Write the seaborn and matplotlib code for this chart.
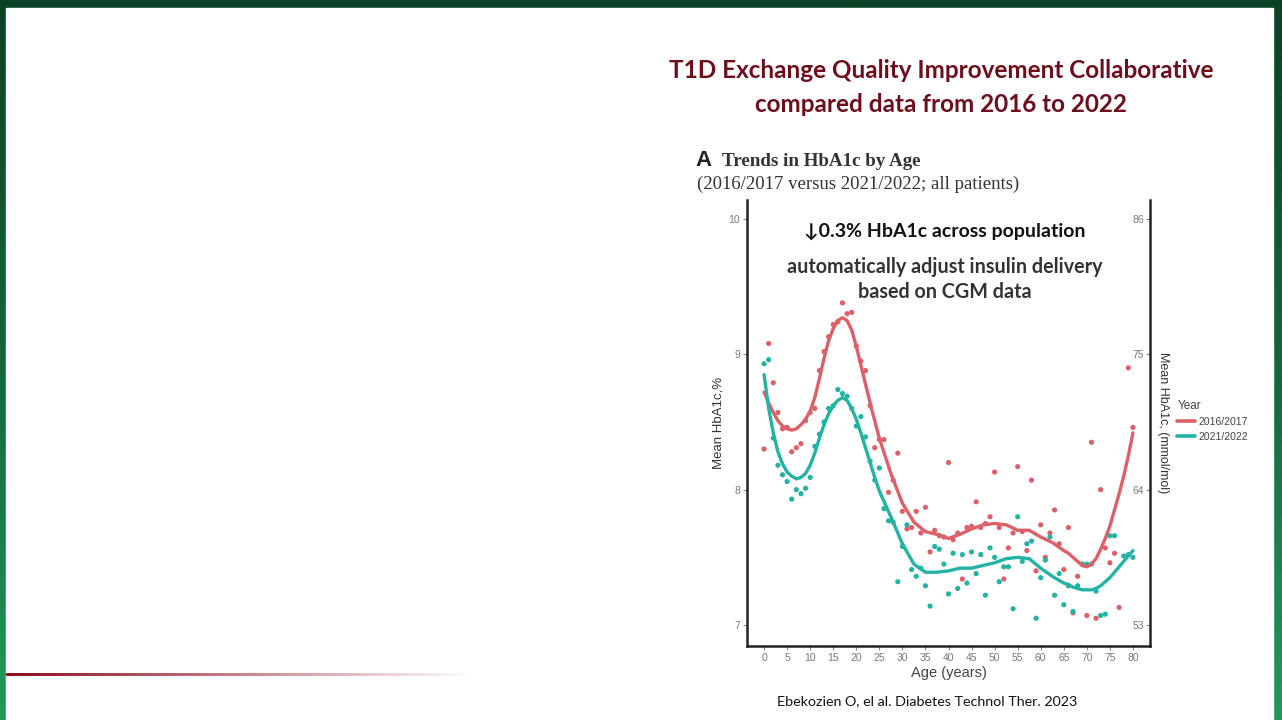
import numpy as np
import pandas as pd
import matplotlib
matplotlib.use("Agg")
import matplotlib.pyplot as plt
from matplotlib.lines import Line2D
import seaborn as sns

# mean HbA1c (%) by age
ages_1617 = [0, 1, 2, 3, 4, 5, 6, 7, 8, 9, 10, 11, 12, 13, 14, 15, 16, 17, 18, 19,
             20, 21, 22, 23, 24, 25, 26, 27, 28, 29, 30, 31, 32, 33, 34, 35, 36, 37, 38, 39,
             40, 41, 42, 43, 44, 45, 46, 47, 48, 49, 50, 51, 52, 53, 54, 55, 56, 57, 58, 59,
             60, 61, 62, 63, 64, 65, 66, 67, 68, 69, 70, 71, 72, 73, 74, 75, 76, 77, 79, 80]
hba1c_1617 = [8.30, 9.08, 8.79, 8.57, 8.45, 8.46, 8.28, 8.31, 8.34, 8.51, 8.57, 8.60, 8.88, 9.02,
              9.13, 9.22, 9.24, 9.38, 9.30, 9.31, 9.06, 8.95, 8.88, 8.62, 8.31, 8.37, 8.37, 7.98,
              8.07, 8.27, 7.84, 7.71, 7.72, 7.84, 7.68, 7.87, 7.54, 7.70, 7.66, 7.65, 8.20, 7.63,
              7.68, 7.34, 7.72, 7.73, 7.91, 7.72, 7.75, 7.80, 8.13, 7.72, 7.34, 7.57, 7.68, 8.17,
              7.69, 7.55, 8.07, 7.40, 7.74, 7.50, 7.68, 7.85, 7.60, 7.41, 7.72, 7.09, 7.36, 7.45,
              7.07, 8.35, 7.05, 8.00, 7.57, 7.46, 7.53, 7.13, 8.90, 8.46]

ages_2122 = [0, 1, 2, 3, 4, 5, 6, 7, 8, 9, 10, 11, 12, 13, 14, 15, 16, 17, 18, 19,
             20, 21, 22, 23, 24, 25, 26, 27, 28, 29, 30, 31, 32, 33, 34, 35, 36, 37, 38, 39,
             40, 41, 42, 43, 44, 45, 46, 47, 48, 49, 50, 51, 52, 53, 54, 55, 56, 57, 58, 59,
             60, 61, 62, 63, 64, 65, 66, 67, 68, 69, 70, 71, 72, 73, 74, 75, 76, 78, 79, 80]
hba1c_2122 = [8.93, 8.96, 8.38, 8.18, 8.11, 8.06, 7.93, 8.00, 7.97, 8.01, 8.09, 8.32, 8.41, 8.50,
              8.60, 8.62, 8.74, 8.71, 8.69, 8.60, 8.47, 8.54, 8.39, 8.21, 8.07, 8.16, 7.86, 7.77,
              7.76, 7.32, 7.58, 7.74, 7.41, 7.36, 7.42, 7.29, 7.14, 7.58, 7.56, 7.45, 7.23, 7.53,
              7.27, 7.52, 7.31, 7.54, 7.38, 7.52, 7.22, 7.57, 7.50, 7.32, 7.43, 7.43, 7.12, 7.80,
              7.47, 7.60, 7.62, 7.05, 7.35, 7.48, 7.65, 7.22, 7.38, 7.15, 7.29, 7.10, 7.29, 7.45,
              7.45, 7.45, 7.25, 7.07, 7.08, 7.66, 7.66, 7.51, 7.52, 7.50]

# smoothed trend lines
fit_ages = [0, 1, 2, 3, 4, 5, 6, 7, 8, 9, 10, 11, 12, 13, 14, 15, 16, 17, 18, 19, 20, 21, 22,
            23, 24, 25, 27.5, 30, 32.5, 35, 37.5, 40, 42.5, 45, 47.5, 50, 52.5, 55, 57.5, 60,
            62.5, 65, 66, 67, 68, 69, 70, 71, 72, 73, 74, 75, 76, 77, 78, 79, 80]
fit_1617 = [8.72, 8.64, 8.57, 8.51, 8.47, 8.45, 8.44, 8.45, 8.48, 8.52, 8.58, 8.68, 8.82, 8.97,
            9.10, 9.19, 9.25, 9.27, 9.25, 9.18, 9.06, 8.92, 8.78, 8.64, 8.51, 8.38, 8.12, 7.90,
            7.76, 7.69, 7.67, 7.64, 7.67, 7.71, 7.74, 7.75, 7.74, 7.70, 7.70, 7.65, 7.61, 7.55,
            7.53, 7.50, 7.47, 7.44, 7.43, 7.45, 7.49, 7.56, 7.64, 7.73, 7.85, 7.97, 8.10, 8.25,
            8.42]
fit_2122 = [8.85, 8.60, 8.42, 8.28, 8.19, 8.13, 8.10, 8.08, 8.09, 8.12, 8.18, 8.27, 8.38, 8.48,
            8.56, 8.62, 8.66, 8.68, 8.66, 8.60, 8.52, 8.42, 8.31, 8.20, 8.09, 7.99, 7.80, 7.60,
            7.45, 7.39, 7.39, 7.40, 7.42, 7.42, 7.44, 7.46, 7.49, 7.50, 7.49, 7.42, 7.36, 7.31,
            7.30, 7.28, 7.27, 7.26, 7.26, 7.26, 7.27, 7.29, 7.32, 7.35, 7.39, 7.43, 7.47, 7.51,
            7.55]

years = ["2016/2017", "2021/2022"]
palette = {"2016/2017": "#dd5f67", "2021/2022": "#22b3a4"}

x_ticks = list(range(0, 81, 5))
y_ticks = [7, 8, 9, 10]
mmol_ticks = [53, 64, 75, 86]

pts = pd.concat([
    pd.DataFrame({"age": ages_1617, "hba1c": hba1c_1617, "Year": years[0]}),
    pd.DataFrame({"age": ages_2122, "hba1c": hba1c_2122, "Year": years[1]}),
])
fits = pd.concat([
    pd.DataFrame({"age": fit_ages, "hba1c": fit_1617, "Year": years[0]}),
    pd.DataFrame({"age": fit_ages, "hba1c": fit_2122, "Year": years[1]}),
])

sns.set_theme(style="white")
plt.rcParams["font.family"] = ["Liberation Sans", "DejaVu Sans"]

W, H = 1282, 720
fig = plt.figure(figsize=(W / 100, H / 100), dpi=100)

# slide background: green frame with white panel
bg = fig.add_axes([0, 0, 1, 1])
grad = np.linspace(0, 1, 256).reshape(-1, 1)
green = matplotlib.colors.LinearSegmentedColormap.from_list("g", ["#0b4227", "#14663d", "#23995c"])
bg.imshow(grad, aspect="auto", cmap=green, extent=[0, 1, 0, 1], origin="upper")
bg.add_patch(plt.Rectangle((6 / W, 0), (1273 - 6) / W, (H - 8) / H, color="white",
                           transform=bg.transAxes))
bg.set_xlim(0, 1)
bg.set_ylim(0, 1)
bg.axis("off")

# fading red rule at the bottom left
rule = fig.add_axes([6 / W, 1 - 676 / H, 470 / W, 3 / H])
rgba = np.zeros((1, 300, 4))
rgba[..., 0] = 0.55
rgba[..., 1] = 0.04
rgba[..., 2] = 0.10
rgba[..., 3] = np.linspace(1, 0, 300)
rule.imshow(rgba, aspect="auto")
rule.axis("off")

# titles
tfont = ["Lato", "DejaVu Sans"]
fig.text(941 / W, 1 - 71 / H, "T1D Exchange Quality Improvement Collaborative", ha="center",
         va="center", fontsize=17.5, fontweight="bold", color="#6e0e1c", family=tfont)
fig.text(941 / W, 1 - 105 / H, "compared data from 2016 to 2022", ha="center",
         va="center", fontsize=17.5, fontweight="bold", color="#6e0e1c", family=tfont)

fig.text(695 / W, 1 - 161 / H, "A", ha="left", va="center", fontsize=16, fontweight="bold",
         color="#222222")
fig.text(722 / W, 1 - 162 / H, "Trends in HbA1c by Age", ha="left", va="center", fontsize=13.7,
         fontweight="bold", color="#333333", family=["Liberation Serif"])
fig.text(697 / W, 1 - 184 / H, "(2016/2017 versus 2021/2022; all patients)", ha="left",
         va="center", fontsize=13.5, color="#333333", family=["Liberation Serif"])

# main chart
ax = fig.add_axes([747 / W, 1 - 646 / H, (1150 - 747) / W, (646 - 200) / H])
sns.scatterplot(data=pts, x="age", y="hba1c", hue="Year", palette=palette, s=14,
                linewidth=0, legend=False, ax=ax)
sns.lineplot(data=fits, x="age", y="hba1c", hue="Year", palette=palette, linewidth=2.4,
             legend=False, ax=ax)

ax.set_xlim(-3.7, 83.7)
ax.set_ylim(6.845, 10.14)
ax.set_xticks(x_ticks)
ax.set_yticks(y_ticks)
ax.tick_params(axis="both", labelsize=7.5, colors="#888888", length=3, width=0.8,
               direction="out", left=True, bottom=True, pad=2)
for lab in ax.get_xticklabels() + ax.get_yticklabels():
    lab.set_color("#777777")
ax.set_xlabel("Age (years)", fontsize=10.5, color="#444444", labelpad=2)
ax.set_ylabel("Mean HbA1c,%", fontsize=9.5, color="#333333", labelpad=2.5)
for side in ["left", "bottom", "right"]:
    ax.spines[side].set_visible(True)
    ax.spines[side].set_color("#222222")
    ax.spines[side].set_linewidth(1.8)
ax.spines["top"].set_visible(False)

# right axis in mmol/mol, tick labels sit inside the panel
sec = ax.secondary_yaxis("right", functions=(lambda p: 11 * p - 24, lambda m: (m + 24) / 11))
sec.set_yticks(mmol_ticks)
sec.tick_params(labelsize=7.5, colors="#888888", length=3, width=0.8, direction="in",
                pad=-12.5)
for lab in sec.get_yticklabels():
    lab.set_color("#777777")
sec.spines["right"].set_visible(False)
sec.set_ylabel("Mean HbA1c, (mmol/mol)", fontsize=9, color="#333333", rotation=270,
               labelpad=5, va="bottom")

handles = [Line2D([0], [0], color=palette[y], lw=2.6) for y in years]
leg = fig.legend(handles, years, title="Year", loc="upper left",
                 bbox_to_anchor=(1170 / W, 1 - 393 / H), frameon=False, fontsize=7.5,
                 title_fontsize=8.5, handlelength=1.7, handletextpad=0.3, labelspacing=0.45,
                 borderpad=0.2)
leg._legend_box.align = "left"
leg.get_title().set_color("#444444")
for t in leg.get_texts():
    t.set_color("#444444")

# overlay notes on the chart
nfont = ["Lato", "DejaVu Sans"]
fig.text(945 / W, 1 - 231 / H, "\u21930.3% HbA1c across population", ha="center", va="center",
         fontsize=14, fontweight="bold", color="#111111", family=nfont)
fig.text(945 / W, 1 - 267 / H, "automatically adjust insulin delivery", ha="center",
         va="center", fontsize=14.2, fontweight="bold", color="#333333", family=nfont)
fig.text(945 / W, 1 - 292 / H, "based on CGM data", ha="center", va="center", fontsize=14.2,
         fontweight="bold", color="#333333", family=nfont)

fig.text(927 / W, 1 - 701 / H, "Ebekozien O, el al. Diabetes Technol Ther. 2023", ha="center",
         va="center", fontsize=10.3, color="#111111", family=nfont)

fig.savefig("out.png", dpi=100)
